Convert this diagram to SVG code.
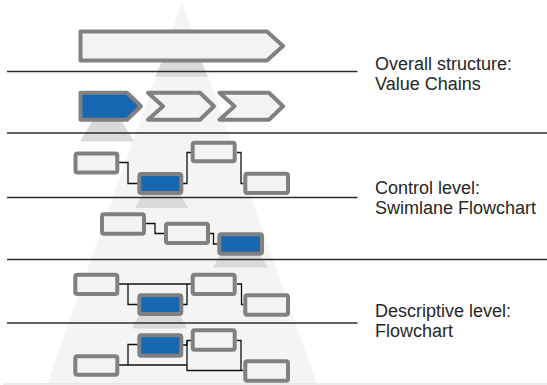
<svg xmlns="http://www.w3.org/2000/svg" width="547" height="385" viewBox="0 0 547 385">
<style>
.box{fill:#f2f3f3;stroke:#808080;stroke-width:4;stroke-linejoin:round}
.sel{fill:#1767b3;stroke:#808080;stroke-width:4;stroke-linejoin:round}
.shade{fill:#d9d9d9}
.sep{stroke:#2b2b2b;stroke-width:1.3;fill:none}
.con{stroke:#111;stroke-width:1.3;fill:none}
.lbl{font-family:"Liberation Sans",Arial,sans-serif;font-size:18px;fill:#262626}
</style>
<rect width="547" height="385" fill="#ffffff"/>
<polygon points="182,2 317,384 47,384" fill="#f3f4f4"/>
<line x1="3" y1="384" x2="547" y2="384" stroke="#e4e4e4" stroke-width="1.5"/>
<g id="shades">
<polygon class="shade" points="163,60 200,60 208,76.5 155,76.5"/>
<polygon class="shade" points="93,120 121,120 134,141.5 80,141.5"/>
<polygon class="shade" points="143,194 180,194 188,208 135,208"/>
<polygon class="shade" points="221,254 260,254 268,267.5 213,267.5"/>
<polygon class="shade" points="139,315 180,315 187,328.5 132,328.5"/>
</g>
<g id="separators">
<line class="sep" x1="7" y1="71.5" x2="357.5" y2="71.5"/>
<line class="sep" x1="7" y1="133" x2="547" y2="133"/>
<line class="sep" x1="7" y1="197.5" x2="357.5" y2="197.5"/>
<line class="sep" x1="7" y1="259.5" x2="547" y2="259.5"/>
<line class="sep" x1="7" y1="323" x2="357.5" y2="323"/>
</g>
<g id="connectors">
<path class="con" d="M119,162.5 H128 V183.5 H137.5"/>
<path class="con" d="M183,183.5 H187 V152.5 H191"/>
<path class="con" d="M237,152.5 H241 V183.5 H243.5"/>
<path class="con" d="M146,223.5 H155 V233.5 H164"/>
<path class="con" d="M210,233.5 H213.5 V244 H217.5"/>
<path class="con" d="M119,284 H191"/>
<path class="con" d="M128,284 V304.5 H137.5"/>
<path class="con" d="M183,304.5 H187 V284"/>
<path class="con" d="M237,284 H241.5 V304.5 H243.5"/>
<path class="con" d="M119,365 H187"/>
<path class="con" d="M128,365 V344.5 H137.5"/>
<path class="con" d="M183,345 H187 V340.5 H191"/>
<path class="con" d="M187,340.5 V370.5 H243.5"/>
<path class="con" d="M237,340.5 H241 V370.5"/>
</g>
<g id="value-chain-overall"><path class="box" d="M80.5,31.5 H267 L283,46 L267,60.5 H80.5 Z"/></g>
<g id="value-chain-1"><path class="sel" d="M80.5,92.7 H127 L141,106.2 L127,119.7 H80.5 Z"/></g>
<g id="value-chain-2"><path class="box" d="M148,92.7 H200 L214,106.2 L200,119.7 H148 L163,106.2 Z"/></g>
<g id="value-chain-3"><path class="box" d="M219.5,92.7 H269 L283,106.2 L269,119.7 H219.5 L234.5,106.2 Z"/></g>
<g id="control-1"><rect class="box" x="75.5" y="153.5" width="41.8" height="19" rx="2"/></g>
<g id="control-2"><rect class="sel" x="139.3" y="174" width="42" height="19" rx="2"/></g>
<g id="control-3"><rect class="box" x="192.7" y="142.7" width="42" height="18.6" rx="2"/></g>
<g id="control-4"><rect class="box" x="245.3" y="173.7" width="42.7" height="19.3" rx="2"/></g>
<g id="swim-1"><rect class="box" x="102" y="214.3" width="42" height="19.4" rx="2"/></g>
<g id="swim-2"><rect class="box" x="166" y="223.7" width="42" height="19.3" rx="2"/></g>
<g id="swim-3"><rect class="sel" x="219.3" y="234.3" width="42.7" height="19.4" rx="2"/></g>
<g id="desc-1"><rect class="box" x="75.3" y="274.7" width="42" height="19.3" rx="2"/></g>
<g id="desc-2"><rect class="sel" x="139.3" y="295.3" width="42" height="18.7" rx="2"/></g>
<g id="desc-3"><rect class="box" x="192.7" y="274.7" width="42" height="19.3" rx="2"/></g>
<g id="desc-4"><rect class="box" x="245.3" y="295.3" width="42.7" height="19.4" rx="2"/></g>
<g id="flow-1"><rect class="sel" x="139.3" y="335.3" width="42" height="20.4" rx="2"/></g>
<g id="flow-2"><rect class="box" x="192.7" y="330.3" width="42" height="19.4" rx="2"/></g>
<g id="flow-3"><rect class="box" x="75.3" y="356.3" width="42" height="18.4" rx="2"/></g>
<g id="flow-4"><rect class="box" x="245.3" y="361.3" width="42.7" height="19.4" rx="2"/></g>
<g id="labels">
<text class="lbl" x="375" y="69.5">Overall structure:</text>
<text class="lbl" x="375" y="89.5">Value Chains</text>
<text class="lbl" x="375" y="193.5">Control level:</text>
<text class="lbl" x="375" y="213.5">Swimlane Flowchart</text>
<text class="lbl" x="375" y="317">Descriptive level:</text>
<text class="lbl" x="375" y="337">Flowchart</text>
</g>
</svg>
